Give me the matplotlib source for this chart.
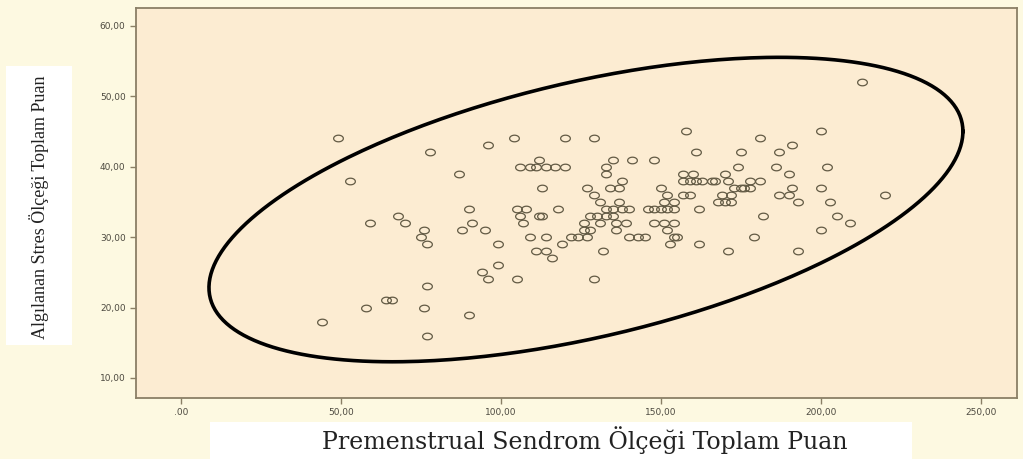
import matplotlib
matplotlib.use("Agg")
import matplotlib.pyplot as plt
import numpy as np
from matplotlib.patches import Rectangle

# PMS scale total (x) vs perceived stress total (y)
pms = [44, 49, 53, 58, 59, 64, 66, 68, 70, 75, 76, 76, 77, 77, 77, 78,
       87, 88, 90, 90, 91, 94, 95, 96, 96, 99, 99, 104, 105,
       106, 109, 111, 114, 117, 120, 112,
       105, 108, 106, 107, 113, 112, 113, 118, 109, 114, 111, 114, 116, 119,
       122, 124, 127, 120, 129, 135, 141, 148, 133, 133, 138, 137, 134, 127, 129,
       150, 132, 129,
       131, 133, 135, 137, 138, 130, 133, 135, 128, 126, 131, 128, 126, 136, 140, 139, 136,
       140, 143, 145, 146, 148, 150, 152, 154, 148, 151, 154, 152, 154, 155, 153, 162,
       158, 161, 157, 160, 157, 159, 161, 163, 166, 152, 154, 157, 159, 151, 162,
       170, 171, 169, 170, 213, 200, 181, 191, 175, 187, 174, 186, 202, 190,
       167, 178, 181, 175, 173, 178, 176, 191, 200, 172, 187, 190, 168, 172,
       193, 203, 220, 182, 205, 209, 200, 179, 171, 193]
stress = [18, 44, 38, 20, 32, 21, 21, 33, 32, 30, 31, 20, 29, 23, 16, 42,
          39, 31, 34, 19, 32, 25, 31, 43, 24, 29, 26, 44, 24,
          40, 40, 40, 40, 40, 40, 41,
          34, 34, 33, 32, 33, 33, 37, 34, 30, 30, 28, 28, 27, 29,
          30, 30, 30, 44, 44, 41, 41, 41, 40, 39, 38, 37, 37, 37, 36,
          37, 28, 24,
          35, 34, 34, 35, 34, 33, 33, 33, 33, 32, 32, 31, 31, 31, 34, 32, 32,
          30, 30, 30, 34, 34, 34, 34, 34, 32, 32, 32, 31, 30, 30, 29, 29,
          45, 42, 39, 39, 38, 38, 38, 38, 38, 36, 35, 36, 36, 35, 34,
          39, 38, 36, 35, 52, 45, 44, 43, 42, 42, 40, 40, 40, 39,
          38, 38, 38, 37, 37, 37, 37, 37, 37, 36, 36, 36, 35, 35,
          35, 35, 36, 33, 33, 32, 31, 30, 28, 28]

x_ticks = [0, 50, 100, 150, 200, 250]
x_labels = [".00", "50,00", "100,00", "150,00", "200,00", "250,00"]
y_ticks = [10, 20, 30, 40, 50, 60]
y_labels = ["10,00", "20,00", "30,00", "40,00", "50,00", "60,00"]

# ellipse drawn around the cloud: centre, half-extent in x and y, phase
ell_cx, ell_cy = 126.6, 33.9
ell_ax, ell_ay = 117.8, 21.6
ell_phase = 1.032

fig = plt.figure(figsize=(10.23, 4.59), dpi=100, facecolor="#fdf9e1")
ax = fig.add_axes([136 / 1023, 1 - 398 / 459, 881 / 1023, 390 / 459])
ax.set_facecolor("#fcecd2")

t = np.linspace(0, 2 * np.pi, 400)
ax.plot(ell_cx + ell_ax * np.cos(t), ell_cy + ell_ay * np.cos(t - ell_phase),
        color="black", lw=2.6, zorder=2)

th = np.linspace(0, 2 * np.pi, 40)
oval = np.column_stack([np.cos(th), 0.68 * np.sin(th)])
ax.plot(pms, stress, linestyle="none", marker=oval, markersize=7,
        markerfacecolor="none", markeredgecolor="#625a44", markeredgewidth=0.9,
        zorder=3)

ax.set_xlim(-14, 261.3)
ax.set_ylim(7.16, 62.5)
ax.set_xticks(x_ticks, x_labels)
ax.set_yticks(y_ticks, y_labels)
ax.tick_params(direction="out", length=4, width=1, color="#8a7f66",
               labelsize=6.5, labelcolor="#4d4a40")
for s in ax.spines.values():
    s.set_color("#8a7f66")
    s.set_linewidth(1.3)

# white label boxes as in the pasted screenshot
fig.patches.append(Rectangle((6 / 1023, 1 - 345 / 459), 66 / 1023, 279 / 459,
                             transform=fig.transFigure, facecolor="white",
                             edgecolor="none", zorder=0))
fig.patches.append(Rectangle((210 / 1023, 0), 702 / 1023, 37 / 459,
                             transform=fig.transFigure, facecolor="white",
                             edgecolor="none", zorder=0))

fig.text(39 / 1023, 1 - 207 / 459, "Algılanan Stres Ölçeği Toplam Puan",
         rotation=90, ha="center", va="center", family="Liberation Serif",
         fontsize=13, color="#222222")
fig.text(585 / 1023, 1 - 440 / 459, "Premenstrual Sendrom Ölçeği Toplam Puan",
         ha="center", va="center", family="DejaVu Serif", fontsize=17,
         color="#222222")

fig.savefig("out.png", dpi=100, facecolor=fig.get_facecolor())
